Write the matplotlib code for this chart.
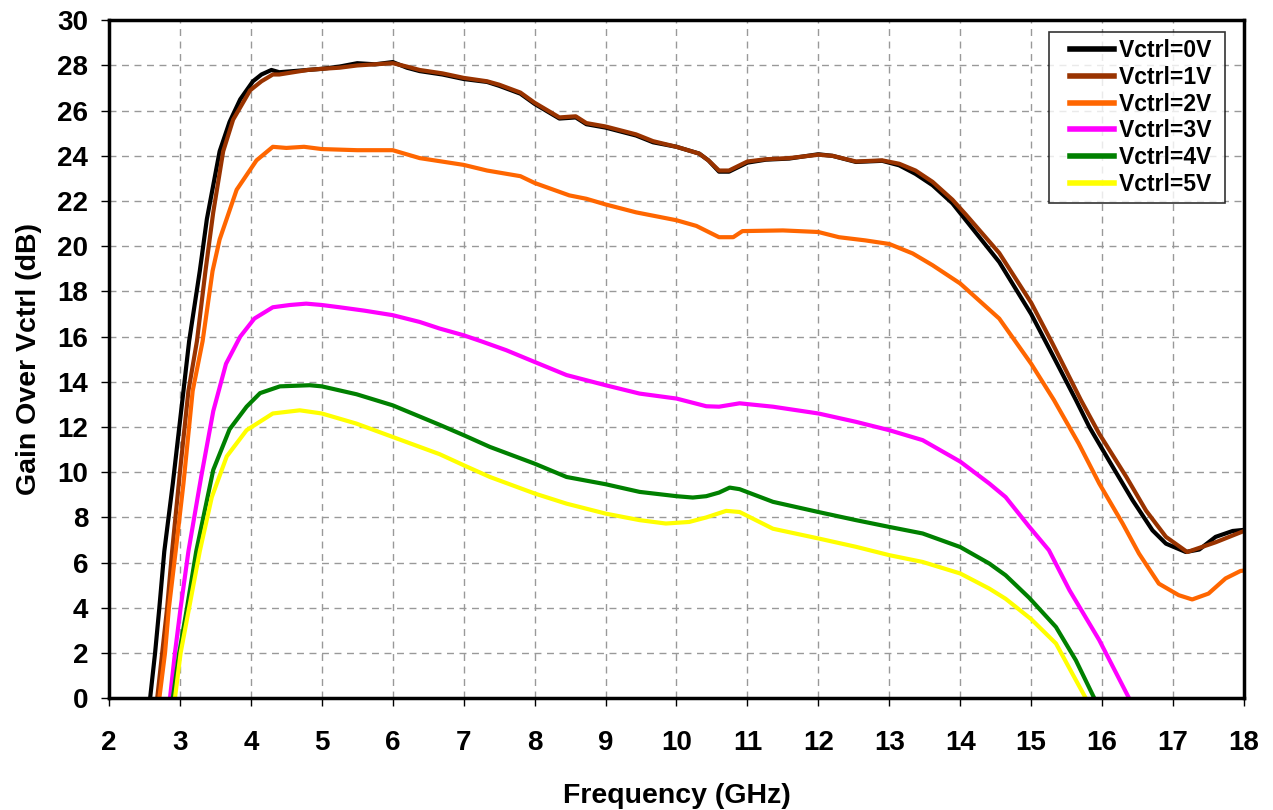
import matplotlib
matplotlib.use('Agg')
import matplotlib.pyplot as plt
import numpy as np
from matplotlib.legend_handler import HandlerLine2D

plt.rcParams['font.family'] = ['Liberation Sans', 'DejaVu Sans']
plt.rcParams['font.weight'] = 'bold'

# Vctrl = 0V
f0 = [2.58, 2.65, 2.71, 2.78, 2.9, 3.05, 3.13, 3.28, 3.38, 3.56, 3.7, 3.85, 4.03, 4.15, 4.29,
      4.4, 4.6, 4.8, 5.0, 5.25, 5.5, 5.75, 6.0, 6.2, 6.38, 6.7, 7.0, 7.33, 7.5, 7.8, 8.0, 8.35,
      8.58, 8.73, 9.0, 9.43, 9.67, 10.0, 10.32, 10.45, 10.6, 10.74, 11.0, 11.26, 11.59, 12.0,
      12.2, 12.53, 12.9, 13.14, 13.37, 13.61, 13.89, 14.08, 14.55, 15.0, 15.3, 15.63, 15.82,
      16.1, 16.43, 16.71, 16.9, 17.18, 17.37, 17.6, 17.84, 18.0]
g0 = [0, 2.0, 4.0, 6.5, 9.5, 13.6, 15.8, 18.9, 21.2, 24.2, 25.5, 26.5, 27.3, 27.6, 27.8,
      27.7, 27.75, 27.8, 27.85, 27.95, 28.1, 28.05, 28.15, 27.9, 27.75, 27.6, 27.4, 27.27, 27.1,
      26.75, 26.3, 25.65, 25.7, 25.4, 25.25, 24.9, 24.6, 24.4, 24.1, 23.8, 23.3, 23.3, 23.7,
      23.83, 23.88, 24.07, 24.0, 23.73, 23.78, 23.58, 23.2, 22.7, 21.9, 21.15, 19.3, 17.0,
      15.2, 13.2, 12.0, 10.5, 8.76, 7.43, 6.84, 6.47, 6.58, 7.14, 7.4, 7.45]

# Vctrl = 1V
f1 = [2.68, 2.75, 2.82, 2.89, 3.0, 3.12, 3.24, 3.36, 3.47, 3.61, 3.75, 3.99, 4.15, 4.31,
      4.4, 4.6, 4.8, 5.0, 5.25, 5.5, 5.75, 6.0, 6.2, 6.38, 6.7, 7.0, 7.33, 7.5, 7.8, 8.0, 8.35,
      8.58, 8.73, 9.0, 9.43, 9.67, 10.0, 10.32, 10.45, 10.6, 10.74, 11.0, 11.26, 11.59, 12.0,
      12.2, 12.53, 12.9, 13.14, 13.37, 13.61, 13.89, 14.08, 14.55, 15.0, 15.3, 15.7, 15.96,
      16.34, 16.62, 16.9, 17.2, 17.6, 18.0]
g1 = [0, 2.0, 4.0, 6.5, 10.0, 13.6, 15.8, 18.9, 21.5, 24.2, 25.6, 26.9, 27.3, 27.6,
      27.6, 27.7, 27.8, 27.85, 27.9, 28.0, 28.05, 28.1, 27.95, 27.8, 27.65, 27.45, 27.3, 27.15,
      26.8, 26.35, 25.7, 25.75, 25.45, 25.3, 24.95, 24.65, 24.4, 24.1, 23.8, 23.35, 23.35,
      23.75, 23.85, 23.9, 24.05, 24.0, 23.75, 23.8, 23.65, 23.35, 22.85, 22.06, 21.4, 19.7,
      17.5, 15.7, 13.2, 11.7, 9.8, 8.3, 7.14, 6.47, 6.9, 7.4]

# Vctrl = 2V
f2 = [2.71, 2.79, 2.845, 2.94, 3.05, 3.18, 3.32, 3.46, 3.56, 3.8, 4.08, 4.31, 4.5, 4.75,
      5.0, 5.5, 6.0, 6.38, 7.0, 7.33, 7.8, 8.0, 8.49, 8.73, 9.0, 9.43, 10.0, 10.28, 10.6,
      10.8, 10.93, 11.5, 12.0, 12.29, 12.66, 13.0, 13.33, 13.61, 14.0, 14.55, 15.0, 15.32,
      15.67, 15.96, 16.29, 16.52, 16.8, 17.08, 17.27, 17.5, 17.74, 17.95, 18.0]
g2 = [0, 2.0, 4.0, 6.5, 9.5, 13.6, 15.8, 18.9, 20.3, 22.5, 23.8, 24.4, 24.35, 24.4,
      24.3, 24.25, 24.25, 23.9, 23.6, 23.35, 23.1, 22.8, 22.25, 22.1, 21.85, 21.5, 21.15, 20.9,
      20.4, 20.4, 20.67, 20.7, 20.63, 20.4, 20.26, 20.1, 19.68, 19.16, 18.35, 16.8, 14.8, 13.2,
      11.27, 9.5, 7.73, 6.4, 5.07, 4.56, 4.37, 4.63, 5.3, 5.63, 5.65]

# Vctrl = 3V
f3 = [2.86, 2.93, 3.01, 3.12, 3.3, 3.47, 3.65, 3.85, 4.05, 4.31, 4.55, 4.78, 5.0, 5.25,
      5.6, 6.0, 6.38, 6.66, 7.0, 7.27, 7.6, 8.0, 8.45, 9.0, 9.48, 10.0, 10.42, 10.6, 10.89,
      11.36, 12.0, 12.53, 13.0, 13.47, 14.0, 14.41, 14.64, 14.97, 15.25, 15.54, 15.96, 16.38]
g3 = [0, 2.0, 4.0, 6.5, 9.8, 12.7, 14.8, 16.0, 16.8, 17.3, 17.4, 17.46, 17.4, 17.3,
      17.15, 16.95, 16.65, 16.36, 16.06, 15.77, 15.4, 14.88, 14.3, 13.85, 13.48, 13.26, 12.92,
      12.9, 13.05, 12.9, 12.6, 12.23, 11.86, 11.42, 10.47, 9.5, 8.9, 7.6, 6.55, 4.78, 2.57, 0]

# Vctrl = 4V
f4 = [2.90, 2.99, 3.10, 3.23, 3.47, 3.70, 3.94, 4.13, 4.41, 4.83, 5.0, 5.49, 6.0, 6.66,
      7.0, 7.37, 8.0, 8.45, 9.0, 9.48, 10.0, 10.23, 10.42, 10.6, 10.75, 10.89, 11.36, 12.0,
      12.53, 13.0, 13.47, 14.0, 14.41, 14.64, 14.97, 15.35, 15.63, 15.89]
g4 = [0, 2.0, 4.0, 6.5, 10.1, 11.9, 12.9, 13.5, 13.8, 13.85, 13.8, 13.45, 12.96, 12.1,
      11.64, 11.12, 10.38, 9.79, 9.47, 9.13, 8.94, 8.88, 8.94, 9.1, 9.32, 9.25, 8.69, 8.24,
      7.88, 7.58, 7.29, 6.69, 5.96, 5.44, 4.45, 3.15, 1.68, 0]

# Vctrl = 5V
f5 = [2.93, 3.01, 3.13, 3.28, 3.45, 3.66, 3.94, 4.31, 4.69, 5.0, 5.49, 6.0, 6.66, 7.0,
      7.37, 8.0, 8.45, 9.0, 9.48, 9.85, 10.18, 10.42, 10.7, 10.89, 11.36, 12.0, 12.53, 13.0,
      13.47, 14.0, 14.41, 14.64, 15.0, 15.35, 15.58, 15.77]
g5 = [0, 2.0, 4.0, 6.5, 8.9, 10.7, 11.86, 12.6, 12.74, 12.6, 12.15, 11.56, 10.8, 10.31,
      9.79, 9.06, 8.61, 8.17, 7.88, 7.73, 7.8, 8.0, 8.29, 8.24, 7.5, 7.07, 6.7, 6.33, 6.03,
      5.52, 4.85, 4.4, 3.5, 2.42, 1.09, 0]

labels = ['Vctrl=0V', 'Vctrl=1V', 'Vctrl=2V', 'Vctrl=3V', 'Vctrl=4V', 'Vctrl=5V']
colors = ['#000000', '#993300', '#FF6600', '#FF00FF', '#008000', '#FFFF00']
series = [(f0, g0), (f1, g1), (f2, g2), (f3, g3), (f4, g4), (f5, g5)]


# legend line that leaves some empty room on its left
class PadLine(HandlerLine2D):
    def create_artists(self, legend, orig_handle, xdescent, ydescent, width, height,
                       fontsize, trans):
        arts = super().create_artists(legend, orig_handle, xdescent, ydescent, width,
                                      height, fontsize, trans)
        x = np.array(arts[0].get_xdata(), dtype=float)
        x[0] = x[0] + 0.6 * fontsize
        arts[0].set_xdata(x)
        return arts


fig = plt.figure(figsize=(12.73, 8.10), dpi=100)
ax = fig.add_axes([0.0856, 0.138, 0.8916, 0.837])

lines = []
for (f, g), c, lab in zip(series, colors, labels):
    ln, = ax.plot(f, g, color=c, lw=3.0, label=lab + ' ', solid_joinstyle='round')
    lines.append(ln)

ax.set_xlim(2, 18)
ax.set_ylim(0, 30)
ax.set_xticks(range(2, 19))
ax.set_yticks(range(0, 31, 2))
ax.grid(True, ls=(0, (5, 4)), color='#999999', lw=1.0)
for s in ax.spines.values():
    s.set_linewidth(2.5)
ax.tick_params(axis='x', direction='out', length=6, width=1, labelsize=20, pad=17)
ax.tick_params(axis='y', direction='out', length=6, width=1, labelsize=20, pad=9)
for t in ax.get_xticklabels() + ax.get_yticklabels():
    t.set_fontweight('bold')

ax.set_xlabel('Frequency (GHz)', fontsize=20.5, fontweight='bold', labelpad=19)
ax.set_ylabel('Gain Over Vctrl (dB)', fontsize=20.5, fontweight='bold', labelpad=11)

leg = ax.legend(loc='upper right', bbox_to_anchor=(0.983, 0.982), fontsize=16.5,
                frameon=True, fancybox=False, handlelength=2.55, handletextpad=0.2,
                labelspacing=0.16, borderpad=0.3, borderaxespad=0,
                handler_map={ln: PadLine() for ln in lines})
leg.get_frame().set_edgecolor('black')
leg.get_frame().set_linewidth(1.2)
for t in leg.get_texts():
    t.set_fontweight('bold')
for h in leg.get_lines():
    h.set_linewidth(4)

fig.savefig('out.png', dpi=100)
